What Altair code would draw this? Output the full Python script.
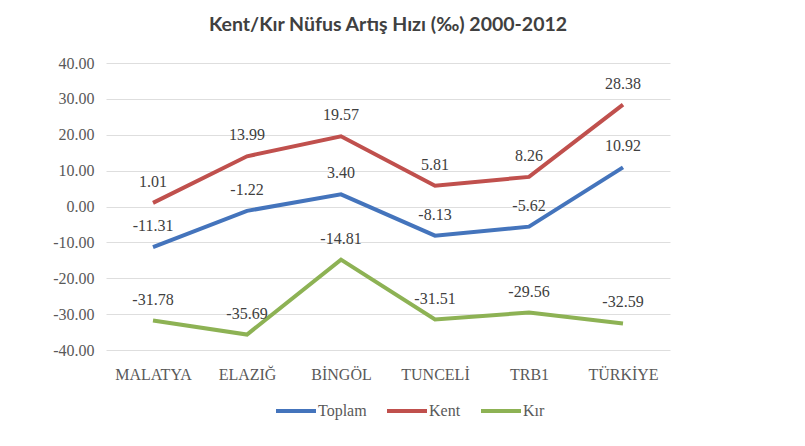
import altair as alt
import pandas as pd

categories = ["MALATYA", "ELAZIĞ", "BİNGÖL", "TUNCELİ", "TRB1", "TÜRKİYE"]
series_names = ["Toplam", "Kent", "Kır"]
toplam = [-11.31, -1.22, 3.40, -8.13, -5.62, 10.92]
kent = [1.01, 13.99, 19.57, 5.81, 8.26, 28.38]
kir = [-31.78, -35.69, -14.81, -31.51, -29.56, -32.59]
colors = ["#4474BC", "#C0504D", "#8DB254"]

rows = []
for name, vals in zip(series_names, [toplam, kent, kir]):
    for c, v in zip(categories, vals):
        rows.append({"cat": c, "series": name, "value": v, "label": f"{v:.2f}"})
df = pd.DataFrame(rows)

serif = "Liberation Serif"
x = alt.X("cat:N", sort=categories, title=None,
          scale=alt.Scale(padding=0.5),
          axis=alt.Axis(labelAngle=0, ticks=False, domain=False, grid=False,
                        labelFont=serif, labelFontSize=16, labelColor="#595959",
                        labelPadding=16))
y = alt.Y("value:Q", title=None,
          scale=alt.Scale(domain=[-40, 40], nice=False),
          axis=alt.Axis(values=list(range(-40, 41, 10)), ticks=False, domain=False,
                        labelOverlap=False,
                        labelExpr="replace(format(datum.value, '.2f'), '\u2212', '-')",
                        labelFont=serif, labelFontSize=16, labelColor="#595959",
                        labelPadding=12, grid=True, gridColor="#dedede", gridWidth=1))
color = alt.Color("series:N", sort=series_names,
                  scale=alt.Scale(domain=series_names, range=colors),
                  legend=alt.Legend(title=None, orient="none", direction="horizontal",
                                    legendX=168, legendY=326,
                                    symbolType="stroke", symbolSize=1600,
                                    symbolStrokeWidth=4, labelFont=serif,
                                    labelFontSize=16, labelColor="#595959",
                                    labelOffset=0, columnPadding=12))

base = alt.Chart(df).encode(x=x, y=y)
lines = base.mark_line(strokeWidth=4).encode(color=color)
labels = base.mark_text(dy=-21, font=serif, fontSize=16, color="#404040").encode(
    text="label:N")

chart = (lines + labels).properties(
    width=564, height=287,
    background="white",
    title=alt.TitleParams("Kent/Kır Nüfus Artış Hızı (‰) 2000-2012",
                          font="Lato", fontSize=19.5, fontWeight="bold",
                          color="#404040", anchor="middle", offset=20),
    autosize=alt.AutoSizeParams(type="none"),
    padding={"left": 98, "top": 55, "right": 120, "bottom": 86},
).configure_view(strokeWidth=0, stroke="transparent")

chart.save("out.html", embed_options={"renderer": "svg", "actions": False})
